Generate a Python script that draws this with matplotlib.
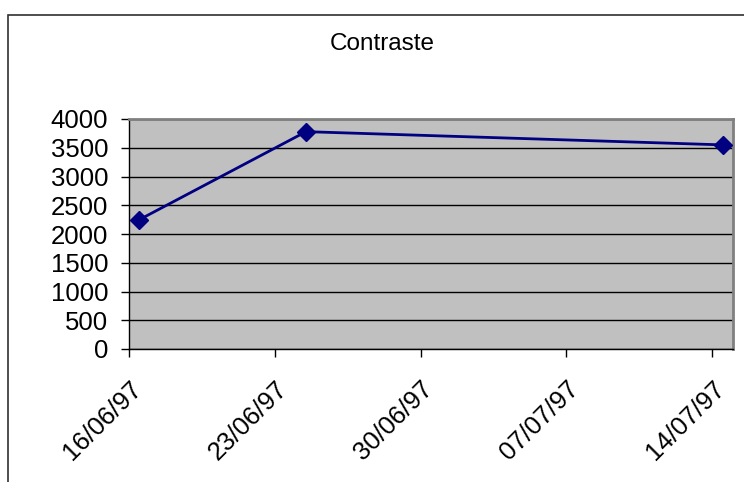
import matplotlib
matplotlib.use("Agg")
import matplotlib.pyplot as plt
import matplotlib.dates as mdates
from matplotlib.patches import Rectangle
from datetime import datetime, timedelta

plt.rcParams['font.family'] = ['Liberation Sans', 'DejaVu Sans']

# measurement dates and contrast values
dates = ["16/06/97", "24/06/97", "14/07/97"]
contraste = [2250, 3780, 3550]
tick_dates = ["16/06/97", "23/06/97", "30/06/97", "07/07/97", "14/07/97"]
y_ticks = [0, 500, 1000, 1500, 2000, 2500, 3000, 3500, 4000]

to_dt = lambda s: datetime.strptime(s, "%d/%m/%y")
# points sit in the middle of their day slot
xs = [to_dt(d) + timedelta(hours=12) for d in dates]

fig = plt.figure(figsize=(7.44, 4.82), dpi=100)

# chart area frame
fig.patches.append(Rectangle((8 / 744, -0.1), 1.2, 1 - 15 / 482 + 0.1,
                             transform=fig.transFigure, fill=False,
                             edgecolor='#303030', linewidth=1.2))

ax = fig.add_axes([129 / 744, 1 - 349 / 482, (733 - 129) / 744, (349 - 119) / 482])
ax.set_facecolor('#C0C0C0')
ax.plot(xs, contraste, color='#000080', linewidth=2, marker='D',
        markersize=9, zorder=3, clip_on=False)

ax.set_ylim(0, 4000)
ax.set_yticks(y_ticks)
ax.set_xlim(to_dt(tick_dates[0]), to_dt(tick_dates[-1]) + timedelta(days=1))
ax.set_xticks([to_dt(d) for d in tick_dates])
ax.xaxis.set_major_formatter(mdates.DateFormatter("%d/%m/%y"))

ax.grid(axis='y', color='black', linewidth=1)
ax.set_axisbelow(True)
for side in ['top', 'right']:
    ax.spines[side].set_color('#808080')
    ax.spines[side].set_linewidth(2)
for side in ['left', 'bottom']:
    ax.spines[side].set_color('black')
    ax.spines[side].set_linewidth(1)

ax.tick_params(axis='both', length=6, width=1, color='black', labelsize=18.5)
ax.tick_params(axis='y', pad=9)
ax.tick_params(axis='x', pad=14)
plt.setp(ax.get_xticklabels(), rotation=45, ha='right', va='top',
         rotation_mode='anchor')

fig.text(382 / 744, 1 - 44 / 482, "Contraste", ha='center', va='center',
         fontsize=17.5)

fig.savefig("out.png", dpi=100)
